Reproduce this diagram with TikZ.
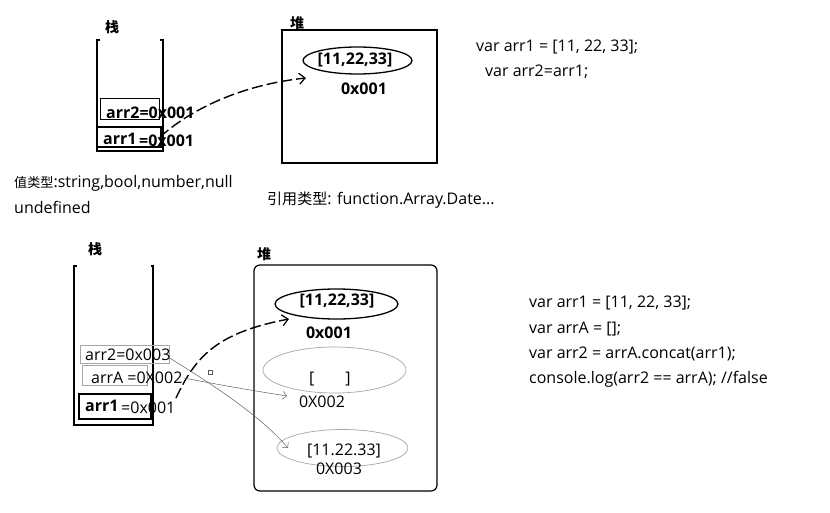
\documentclass[tikz,border=0pt]{standalone}
\usepackage{fontspec}
\setmainfont{Open Sans}
\newfontfamily\cjk[Scale=0.82]{Noto Sans CJK SC}
\newfontfamily\cjkr[Scale=0.94]{Noto Sans CJK SC}
\newfontfamily\cjkh{Noto Sans CJK SC}
\usetikzlibrary{arrows.meta,shapes.geometric}
\begin{document}
\begin{tikzpicture}[x=1pt,y=-1pt,
  txt/.style={inner sep=0pt,anchor=west,font=\fontsize{16}{19}\selectfont},
  btxt/.style={inner sep=0pt,font=\fontsize{16}{19}\selectfont\bfseries},
  ctxt/.style={inner sep=0pt,font=\fontsize{16}{19}\selectfont},
  hz/.style={inner sep=0pt,font=\cjkh\bfseries\fontsize{14}{16}\selectfont},
  stackwall/.style={line width=1.2pt},
  gbox/.style={draw=gray!70,line width=0.7pt},
  heapell/.style={ellipse,draw,line width=1.3pt,inner sep=0pt},
  gell/.style={ellipse,draw=gray!70,line width=0.7pt,inner sep=0pt},
  ptr/.style={line width=1.4pt,dash pattern=on 11pt off 4pt,-{Straight Barb[length=6pt,width=11pt,line width=1.2pt]}},
  thin/.style={draw=gray!75!black,line width=0.5pt,-{Straight Barb[length=4pt,width=8pt]}}
]
\useasboundingbox (0,0) rectangle (830,513);
\fill[white] (0,0) rectangle (830,513);

% ===== top =====
\node[hz] (st1) at (112,27) {栈};
\draw[stackwall] (100,40) -- (97,40) -- (97,151) -- (163,151) -- (163,40) -- (160,40);
\draw[line width=1pt] (100,99) rectangle (159,120);
\draw[line width=1.6pt] (97,127) rectangle (161,147);
\node[btxt,anchor=west] (a2t) at (106,113) {arr2=0x001};
\node[btxt,anchor=west] (a1t) at (103,139) {arr1};
\node[btxt,anchor=west] (a1v) at (139,141) {=0x001};

\node[hz] (hp1) at (297,23) {堆};
\draw[line width=1.2pt] (282,30) rectangle (437,163);
\node[heapell,minimum width=109pt,minimum height=27pt] (e1) at (357.5,60.5) {};
\node[btxt] (e1t) at (355,60) {[11,22,33]};
\node[btxt] (e1a) at (364,89) {0x001};

\coordinate (s1) at (160,137);
\coordinate (t1) at (306,78);
\draw[ptr] (s1) .. controls (190,110) and (240,85) .. (t1);

\node[txt] (val) at (14,183) {{\cjk 值类型}:string,bool,number,null};
\node[txt] (und) at (14,207) {undefined};
\node[txt] (ref) at (267,200) {{\cjkr 引用类型}: function.Array.Date...};

\node[txt] (c1) at (476,47) {var arr1 = [11, 22, 33];};
\node[txt] (c2) at (485,72) {var arr2=arr1;};

% ===== bottom =====
\node[hz] (st2) at (95,249) {栈};
\draw[stackwall] (77,266) -- (74,266) -- (74,425) -- (153,425) -- (153,266) -- (151,266);
\draw[gbox] (80,345) rectangle (169,363);
\draw[gbox] (82,365) rectangle (147,385);
\draw[line width=1.6pt] (79,394) rectangle (151,419);
\node[txt] (b2t) at (85,355) {arr2=0x003};
\node[txt] (bAt) at (91,378) {arrA =0X002};
\node[btxt,anchor=west] (b1t) at (85,406) {arr1};
\node[txt] (b1v) at (121,408) {=0x001};

\node[hz] (hp2) at (264,254) {堆};
\draw[line width=1.2pt,rounded corners=6pt] (254,265) rectangle (437,491);
\node[heapell,minimum width=123pt,minimum height=30pt] (f1) at (336.5,304) {};
\node[btxt] (f1t) at (337,301) {[11,22,33]};
\node[btxt] (f1a) at (329,333) {0x001};
\node[gell,minimum width=143pt,minimum height=46pt] (f2) at (334.5,370) {};
\node[ctxt] (f2t) at (330,379) {[\hspace{31pt}]};
\node[ctxt] (f2a) at (322,402) {0X002};
\node[gell,minimum width=131pt,minimum height=37pt] (f3) at (342.5,448) {};
\node[ctxt] (f3t) at (344,451) {[11.22.33]};
\node[ctxt] (f3a) at (339,469) {0X003};

\coordinate (s2) at (176,398);
\coordinate (t2) at (289,319);
\draw[ptr] (s2) .. controls (195,358) and (215,333) .. (t2);

\coordinate (sA) at (184,378);
\coordinate (tA) at (287,396);
\draw[thin] (sA) .. controls (220,385) and (255,391) .. (tA);
\coordinate (sB) at (168,357);
\coordinate (tB) at (288,448);
\draw[thin] (sB) .. controls (210,383) and (260,415) .. (tB);
\draw[gray!70!black,line width=0.5pt] (208.5,370.5) rectangle (212,374);

\node[txt] (d1) at (529,303) {var arr1 = [11, 22, 33];};
\node[txt] (d2) at (529,329) {var arrA = [];};
\node[txt] (d3) at (529,354) {var arr2 = arrA.concat(arr1);};
\node[txt] (d4) at (529,379) {console.log(arr2 == arrA); //false};
\end{tikzpicture}
\end{document}
